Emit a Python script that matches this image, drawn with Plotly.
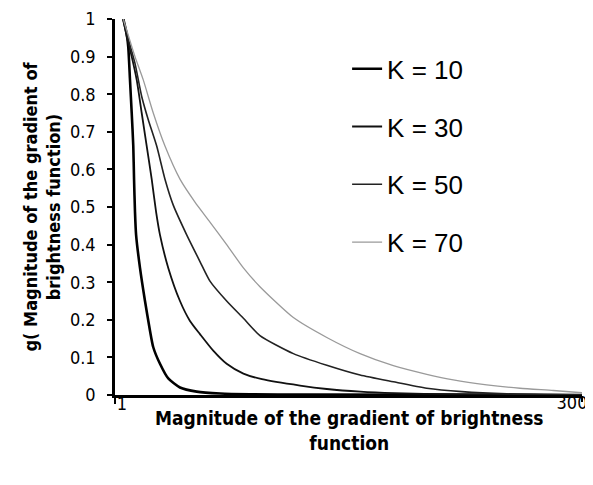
import plotly.graph_objects as go

# Values
k10_x = [6.3, 8.5, 9.5, 10.6, 11.7, 12.7, 13.2, 13.8, 14.5, 17.0, 20.2, 23.4, 25.5, 29.8, 35.1, 42.6, 53.3, 68.4, 87.4, 119.5, 300]
k10_g = [1.0, 0.96, 0.925, 0.838, 0.75, 0.663, 0.574, 0.487, 0.426, 0.338, 0.25, 0.171, 0.127, 0.083, 0.044, 0.020, 0.009, 0.004, 0.002, 0.001, 0.0]

k30_x = [6.3, 8.7, 11.7, 14.9, 18.1, 21.3, 24.5, 27.3, 29.8, 35.1, 42.6, 49.0, 55.4, 63.9, 72.5, 83.2, 95.1, 119.5, 136.6, 158.0, 180.0, 215.5, 300]
k30_g = [1.0, 0.95, 0.9, 0.838, 0.75, 0.662, 0.574, 0.487, 0.426, 0.338, 0.25, 0.197, 0.162, 0.118, 0.083, 0.057, 0.042, 0.025, 0.016, 0.009, 0.005, 0.002, 0.0]

k50_x = [6.3, 9.3, 13.8, 18.1, 22.3, 27.7, 33.0, 38.3, 46.9, 55.4, 61.8, 72.5, 83.2, 93.8, 115.2, 136.6, 157.9, 179.2, 200.6, 223.0, 251.8, 300]
k50_g = [1.0, 0.95, 0.882, 0.794, 0.732, 0.662, 0.574, 0.505, 0.426, 0.355, 0.303, 0.25, 0.204, 0.158, 0.110, 0.079, 0.053, 0.035, 0.018, 0.009, 0.003, 0.0]

k70_x = [6.3, 10.0, 13.8, 19.1, 25.5, 33.0, 42.6, 52.2, 61.8, 72.5, 83.2, 93.8, 115.2, 136.6, 157.9, 179.2, 200.6, 217.6, 239.0, 260.3, 281.6, 300]
k70_g = [1.0, 0.95, 0.9, 0.838, 0.75, 0.662, 0.574, 0.513, 0.46, 0.40, 0.338, 0.288, 0.206, 0.153, 0.110, 0.078, 0.055, 0.040, 0.027, 0.018, 0.012, 0.006]

series_names = ["K = 10", "K = 30", "K = 50", "K = 70"]
x_first_tick, x_last_tick = 1, 300
x_first_text, x_last_text = "1", "300"

narrow = "Liberation Sans Narrow, Arial Narrow, DejaVu Sans Condensed, Liberation Sans, Arial, sans-serif"
regular = "Liberation Sans, Arial, sans-serif"

styles = [
    dict(color="#000000", width=2.6),
    dict(color="#111111", width=1.8),
    dict(color="#222222", width=1.6),
    dict(color="#9a9a9a", width=1.3),
]

fig = go.Figure()
all_series = [(k10_x, k10_g), (k30_x, k30_g), (k50_x, k50_g), (k70_x, k70_g)]
for i, (xs, gs) in enumerate(all_series):
    fig.add_trace(go.Scatter(
        x=xs, y=gs, mode="lines", name=series_names[i],
        line=dict(shape="spline", smoothing=0.6, **styles[i]),
        legendgroup=f"g{i}",
        xaxis="x2" if i == 3 else "x",
    ))

tick_common = dict(
    ticks="outside", ticklen=6, tickwidth=2, tickcolor="black",
    tickfont=dict(family=narrow, size=18, color="black"),
    ticklabelstandoff=-15, showgrid=False, zeroline=False, automargin=False,
    ticklabeloverflow="allow",
)

# The page body has an 8px margin, so the figure is 8px smaller than the window
fig.update_layout(
    width=585, height=477,
    margin=dict(l=107, r=11, t=11, b=90),
    paper_bgcolor="white", plot_bgcolor="white",
    showlegend=True,
    legend=dict(
        x=0.497, y=0.93, xanchor="left", yanchor="top",
        font=dict(family=regular, size=26, color="black"),
        bgcolor="rgba(0,0,0,0)", borderwidth=0,
        tracegroupgap=21,
    ),
    xaxis=dict(
        range=[1, 300],
        showline=True, linecolor="black", linewidth=2.5,
        tickmode="array", tickvals=[x_first_tick], ticktext=[x_first_text],
        ticklabelshift=7,
        **tick_common,
    ),
    xaxis2=dict(
        range=[1, 300], overlaying="x", matches="x", side="bottom", anchor="y",
        showline=False,
        tickmode="array", tickvals=[x_last_tick], ticktext=[x_last_text],
        ticklabelshift=-10,
        **tick_common,
    ),
    yaxis=dict(
        range=[0, 1], showgrid=False, zeroline=False, automargin=False,
        showline=True, linecolor="black", linewidth=2.5,
        tick0=0, dtick=0.1,
        ticks="outside", ticklen=5, tickwidth=2, tickcolor="black",
        tickfont=dict(family=narrow, size=18, color="black"),
        ticklabelstandoff=8, ticklabeloverflow="allow",
        title=dict(
            text="<b>g( Magnitude of the gradient of<br>brightness function)</b>",
            font=dict(family=narrow, size=18, color="black"),
            standoff=5,
        ),
    ),
    annotations=[dict(
        text="<b>Magnitude of the gradient of brightness<br>function</b>",
        xref="paper", yref="paper", x=0.5, y=0, xanchor="center", yanchor="top",
        yshift=-10, showarrow=False,
        font=dict(family=narrow, size=19, color="black"),
    )],
)

fig.write_html("out.html")
